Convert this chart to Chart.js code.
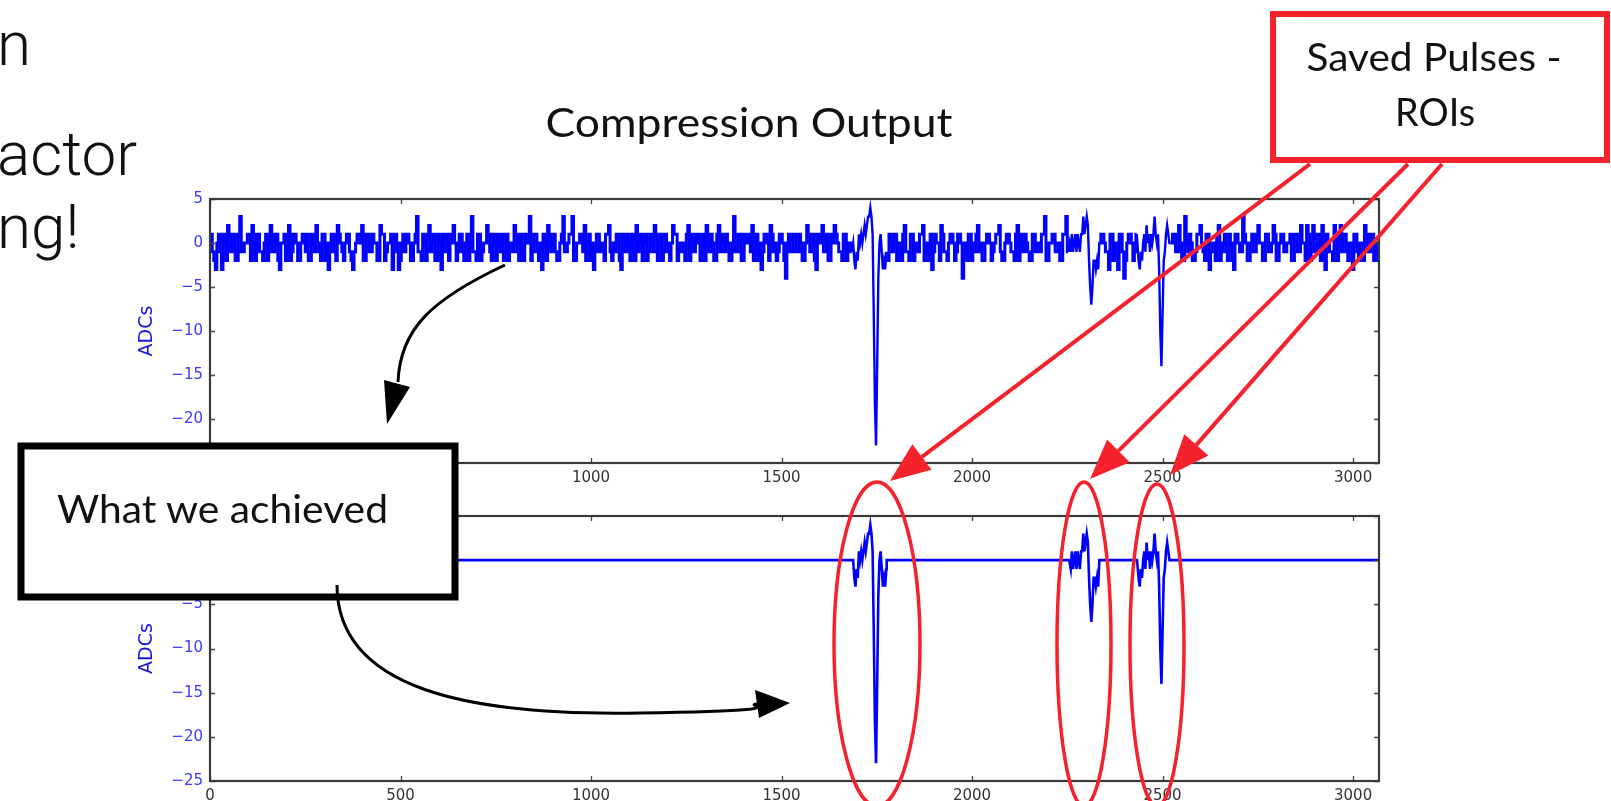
<!DOCTYPE html>
<html><head><meta charset="utf-8">
<script src="https://cdn.jsdelivr.net/npm/chart.js@4.4.0/dist/chart.umd.min.js"></script>
<style>
html,body{margin:0;padding:0;background:#fff;width:1611px;height:801px;overflow:hidden;}
#wrap{position:relative;width:1611px;height:801px;}
canvas{position:absolute;}
#c1{left:0;top:150px;}
#c2{left:0;top:470px;}
svg{position:absolute;left:0;top:0;pointer-events:none;}
</style></head><body>
<div id="wrap">
<canvas id="c1" width="1420" height="345"></canvas>
<canvas id="c2" width="1420" height="331"></canvas>
<svg id="ov" width="1611" height="801" viewBox="0 0 1611 801">
  <g font-family="Roboto" font-weight="300" font-size="62" fill="#111">
    <text x="-3" y="65">n</text>
    <text x="-3" y="175">actor</text>
    <text x="-3" y="248">ng!</text>
  </g>
  <text x="749" y="137" text-anchor="middle" font-family="Lato" font-size="40" fill="#111" textLength="407" lengthAdjust="spacingAndGlyphs">Compression Output</text>
  <rect x="21" y="446" width="434" height="151" fill="#fff" stroke="#000" stroke-width="7"/>
  <text x="57" y="523" font-family="Lato" font-size="39" fill="#111" textLength="331" lengthAdjust="spacingAndGlyphs">What we achieved</text>
  <path d="M505,265 C430,300 400,330 398,382" stroke="#000" stroke-width="3" fill="none"/>
  <polygon points="387,424 384,380 410,387" fill="#000"/>
  <path d="M337,585 C337,690 470,716 640,713 S740,706 757,704" stroke="#000" stroke-width="3" fill="none"/>
  <polygon points="790,703 755,690 759,718" fill="#000"/>
  <rect x="1273" y="14" width="334" height="146" fill="#fff" stroke="#f5222d" stroke-width="6"/>
  <g font-family="Lato" font-size="39" fill="#111" text-anchor="middle">
    <text x="1434" y="71" textLength="255" lengthAdjust="spacingAndGlyphs">Saved Pulses -</text>
    <text x="1435" y="126" textLength="80" lengthAdjust="spacingAndGlyphs">ROIs</text>
  </g>
  <g id="redArrows"></g>
  <g fill="none" stroke="#f5222d" stroke-width="3.5">
    <ellipse cx="877" cy="644" rx="43" ry="162"/>
    <ellipse cx="1084" cy="644" rx="27" ry="162"/>
    <ellipse cx="1157" cy="645" rx="27" ry="161"/>
  </g>
</svg>
</div>
<script>
// ---------------- data ----------------
const noiseStep = 8; // samples between readings of each noise array
// readings at samples 0, 8, 16, ...
const noiseEven = [
 0,-1,-3,1,-3,0,2,-1,1,-2,3,-1,0,1,2,-2,1,-1,0,-2,2,-1,1,-3,0,-2,2,-1,1,-2,0,1,
 1,-2,0,2,-1,1,-2,-3,1,-1,2,0,-2,1,-1,-3,0,1,2,-2,1,-1,0,-2,2,1,-1,0,-3,1,-3,0,
 -1,1,-2,0,3,-1,1,-2,2,0,-2,1,-3,-1,1,0,2,-2,1,-1,0,-2,3,-1,1,-2,0,2,-1,1,-2,0,
 1,-1,-2,0,2,-1,1,-2,0,3,-1,1,-2,-3,0,2,-1,1,-2,0,3,-1,1,3,-2,0,1,2,-1,-2,-3,1,
 -1,0,1,2,-2,-1,1,-3,0,1,-2,-1,2,0,-2,1,-1,0,2,-2,1,-1,0,-2,2,1,-1,0,-2,2,1,-1,
 0,-2,1,2,-1,0,-2,2,1,-1,0,-2,3,-1,1,-2,0,1,2,-1,-2,-3,1,0,2,-1,-2,1,0,-4,1,-1,
 1,-1,0,-2,2,-1,1,-3,0,2,-1,-2,1,2,0,-1,1,-2,0,1,-1,0,-2,1,0,-1,1,-2,0,1,-2,1,
 -1,1,0,-2,2,-1,1,-2,0,1,2,-1,-2,-3,1,0,2,-1,-2,1,0,-1,1,-4,0,1,-2,-1,2,0,-2,1,
 0,-1,1,2,-2,0,1,-1,-2,2,1,-1,0,-2,1,-1,0,1,3,-2,0,1,-1,-2,1,3,-1,0,1,-1,0,1,
 -1,0,1,-2,0,1,-1,-3,1,0,-3,1,-4,0,1,-2,1,0,-1,1,0,-2,1,-1,0,1,-2,0,1,-1,2,-2,
 3,-1,0,-2,1,2,-1,1,-3,0,-2,2,-1,1,-2,0,-3,1,-1,3,0,-2,1,-1,2,0,-2,1,-1,2,-2,0,
 1,-1,0,-2,1,-1,2,0,2,-2,2,-1,1,2,-3,0,-1,2,-2,2,1,-1,0,-3,1,-2,0,2,-1,1,-2,0,
 1
];
// readings at samples 4, 12, 20, ...
const noiseOdd = [
 1,-2,0,-1,1,-2,1,0,-2,1,-1,0,1,-2,0,1,-1,-2,1,0,-1,1,-2,0,1,-1,-2,1,0,-2,1,-1,
 -2,1,-1,0,-2,1,0,-1,1,-2,1,-1,0,1,-2,-1,1,0,-2,1,-1,1,0,-2,1,-2,0,1,-1,0,-2,1,
 1,0,-2,1,-1,-2,0,1,-1,1,-2,0,1,-1,-2,1,0,-1,1,-2,1,0,-1,-2,1,-1,0,1,-2,0,1,-1,
 -2,1,0,-1,1,-2,-1,1,0,-2,1,-1,0,1,-2,1,0,-1,-2,1,-1,0,1,-2,0,1,-1,-2,1,0,-1,1,
 0,-2,1,-1,0,1,-2,1,-1,0,1,-2,-1,1,0,-2,1,-1,1,0,-2,1,-1,0,1,-2,0,-1,1,-2,0,1,
 1,-1,-2,0,1,-2,1,-1,0,1,-2,0,-1,1,-2,1,0,-1,-2,1,0,-1,1,-2,1,0,-1,1,-2,0,-1,1,
 -1,1,-2,0,1,-1,-2,1,0,-1,1,-2,0,1,-1,-2,1,0,-1,1,-2,0,1,-1,0,-2,1,0,-1,1,-2,0,
 1,-2,0,1,-1,-2,1,0,-1,1,-2,0,1,-1,0,-2,1,-1,0,1,-2,1,0,-1,-2,1,0,1,-1,-2,0,1,
 -2,0,1,-1,-2,1,0,-1,1,-2,0,1,-1,-2,1,0,-1,1,-2,0,1,-1,0,-2,1,-1,0,1,-2,1,-1,0,
 1,-1,0,-2,1,0,-1,1,-2,0,1,-1,-2,1,0,-1,1,-2,1,0,-1,-2,1,0,1,-1,-2,0,1,-1,0,-2,
 0,1,-2,-1,1,0,-2,1,-1,0,1,-2,0,-1,1,-2,1,0,-1,1,-2,0,-1,1,0,-2,1,-1,0,1,-2,1,
 -1,0,1,-2,1,-1,0,-2,1,0,-1,1,-2,0,1,-1,-2,1,0,-1,1,-2,0,1,-1,0,-2,1,-1,1,0,-2
];
const roiStarts = [1688, 2256, 2434];
const roiStep = 3;
const roi1 = [0,-2,-3,-1,-2,1,0,1,0,1,2,1,2,3,3,4,3,1,-8,-18,-23,-14,-4,0,1,-1,-3,-2,-3,-1];
const roi2 = [0,-1,1,-1,0,1,-1,1,0,-1,1,1,3,1,2,3,2,-2,-5,-7,-5,-2,-2,-3,-2,-3,0];
const roi3 = [0,-2,-3,-1,-2,0,1,-1,2,0,1,-1,1,0,1,3,1,0,1,-3,-10,-14,-8,-2,-1,1,2,1,0];
const xTickValues = [0, 500, 1000, 1500, 2000, 2500, 3000];
const yTickValues = [-25, -20, -15, -10, -5, 0, 5];
const xMax = 3068, yMin = -25, yMax = 5;
const yTitle = 'ADCs';

// ---------------- build series ----------------
const rois = [roi1, roi2, roi3].map((vals, k) => {
  const pts = vals.map((v, j) => ({x: roiStarts[k] + j * roiStep, y: v}));
  return {start: pts[0].x, end: pts[pts.length - 1].x, pts};
});
const inRoi = x => rois.some(r => x >= r.start && x <= r.end);
const noisePts = noiseEven.map((v, i) => ({x: i * noiseStep, y: v}))
  .concat(noiseOdd.map((v, i) => ({x: i * noiseStep + noiseStep / 2, y: v})))
  .sort((a, b) => a.x - b.x);
// noise outside the ROIs (gaps where pulses are)
const topNoise = [];
noisePts.forEach(p => { if (!inRoi(p.x)) topNoise.push(p); });
rois.forEach(r => topNoise.push({x: (r.start + r.end) / 2, y: null}));
topNoise.sort((a, b) => a.x - b.x);
// pulses inside the ROIs, joined to neighbouring noise readings
const topPulses = [];
rois.forEach(r => {
  const before = noisePts.filter(p => p.x < r.start).pop();
  const after = noisePts.find(p => p.x > r.end);
  topPulses.push(before, ...r.pts, after, {x: after.x + 1, y: null});
});
const botPts = [{x: 0, y: 0}];
rois.forEach(r => { botPts.push({x: r.start - 1, y: 0}); botPts.push(...r.pts); botPts.push({x: r.end + 1, y: 0}); });
botPts.push({x: xMax, y: 0});

// ---------------- chart ----------------
const fmt = v => (v < 0 ? '\u2212' + Math.abs(v) : String(v));
const framePlugin = {
  id: 'frame',
  afterDraw(chart) {
    const {ctx, chartArea: a, scales} = chart;
    ctx.save();
    ctx.strokeStyle = '#444';
    ctx.lineWidth = 1.3;
    ctx.beginPath();
    xTickValues.forEach(v => {
      const px = Math.round(scales.x.getPixelForValue(v)) + 0.5;
      ctx.moveTo(px, a.bottom); ctx.lineTo(px, a.bottom - 5);
      ctx.moveTo(px, a.top); ctx.lineTo(px, a.top + 5);
    });
    yTickValues.forEach(v => {
      const py = Math.round(scales.y.getPixelForValue(v)) + 0.5;
      ctx.moveTo(a.left, py); ctx.lineTo(a.left + 5, py);
      ctx.moveTo(a.right, py); ctx.lineTo(a.right - 5, py);
    });
    ctx.stroke();
    ctx.lineWidth = 2.2;
    ctx.strokeStyle = '#3a3a3a';
    ctx.strokeRect(a.left, a.top, a.right - a.left, a.bottom - a.top);
    ctx.translate(a.left - 63, (a.top + a.bottom) / 2);
    ctx.rotate(-Math.PI / 2);
    ctx.fillStyle = '#1515e0';
    ctx.font = '19px "DejaVu Sans"';
    ctx.textAlign = 'center';
    ctx.textBaseline = 'middle';
    ctx.fillText(yTitle, 0, 0);
    ctx.restore();
  }
};
const lineStyle = {borderColor: '#0000ff', borderWidth: 2.4, pointRadius: 0, fill: false, spanGaps: false};
function makeChart(id, datasets, padTop, xH) {
  return new Chart(document.getElementById(id), {
    type: 'line',
    data: {datasets: datasets.map(d => Object.assign({}, lineStyle, d))},
    options: {
      responsive: false, animation: false, devicePixelRatio: 1, events: [],
      layout: {padding: {left: 0, right: 41, top: padTop, bottom: 0}},
      plugins: {legend: {display: false}, tooltip: {enabled: false}},
      scales: {
        x: {type: 'linear', min: 0, max: xMax,
            afterBuildTicks: s => { s.ticks = xTickValues.map(v => ({value: v})); },
            afterFit: s => { s.height = xH; },
            grid: {display: false, drawTicks: false}, border: {display: false},
            ticks: {color: '#333', font: {family: 'DejaVu Sans', size: 15}, padding: 6, maxRotation: 0, autoSkip: false, callback: v => String(v)}},
        y: {type: 'linear', min: yMin, max: yMax,
            afterBuildTicks: s => { s.ticks = yTickValues.map(v => ({value: v})); },
            afterFit: s => { s.width = 210; },
            grid: {display: false, drawTicks: false}, border: {display: false},
            ticks: {color: '#3b3bff', font: {family: 'DejaVu Sans', size: 15}, padding: 7, autoSkip: false, callback: v => fmt(v)}}
      }
    },
    plugins: [framePlugin]
  });
}
makeChart('c1', [{data: topNoise, stepped: 'middle', borderWidth: 3}, {data: topPulses, tension: 0}], 49, 32);
makeChart('c2', [{data: botPts, tension: 0, borderWidth: 2.6}], 46, 20);

// ---------------- red annotation arrows ----------------
const arrows = [[1310,164,890,481],[1408,164,1090,479],[1442,164,1170,475]];
const g = document.getElementById('redArrows');
const NS = 'http://www.w3.org/2000/svg';
arrows.forEach(([x0,y0,x1,y1]) => {
  const dx = x1 - x0, dy = y1 - y0, L = Math.hypot(dx, dy), ux = dx / L, uy = dy / L;
  const hl = 40, hw = 16;
  const bx = x1 - ux * hl, by = y1 - uy * hl;
  const line = document.createElementNS(NS, 'line');
  line.setAttribute('x1', x0); line.setAttribute('y1', y0);
  line.setAttribute('x2', bx); line.setAttribute('y2', by);
  line.setAttribute('stroke', '#f5222d'); line.setAttribute('stroke-width', 4);
  g.appendChild(line);
  const poly = document.createElementNS(NS, 'polygon');
  poly.setAttribute('points', `${x1},${y1} ${bx - uy * hw},${by + ux * hw} ${bx + uy * hw},${by - ux * hw}`);
  poly.setAttribute('fill', '#f5222d');
  g.appendChild(poly);
});
</script>
</body></html>
